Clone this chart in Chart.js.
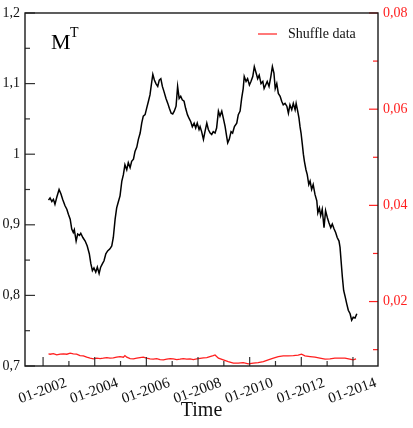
<!DOCTYPE html>
<html>
<head>
<meta charset="utf-8">
<script src="https://cdn.jsdelivr.net/npm/chart.js@4/dist/chart.umd.min.js"></script>
<style>
  html, body { margin: 0; padding: 0; background: #fff; }
  canvas { display: block; }
</style>
</head>
<body>
<canvas id="mtChart" width="413" height="428"></canvas>
<script>
// M^T series (decimal years)
const mDates = [
  2002.21, 2002.27, 2002.34, 2002.40, 2002.46, 2002.53, 2002.62, 2002.69, 2002.76, 2002.85,
  2002.92, 2002.98, 2003.05, 2003.11, 2003.17, 2003.21, 2003.28, 2003.34, 2003.41, 2003.46,
  2003.54, 2003.63, 2003.71, 2003.79, 2003.85, 2003.91, 2003.97, 2004.04, 2004.10, 2004.17,
  2004.23, 2004.30, 2004.36, 2004.43, 2004.50, 2004.59, 2004.66, 2004.72, 2004.79, 2004.85,
  2004.91, 2004.98, 2005.05, 2005.11, 2005.17, 2005.24, 2005.30, 2005.37, 2005.43, 2005.50,
  2005.56, 2005.63, 2005.69, 2005.76, 2005.82, 2005.88, 2005.95, 2006.01, 2006.08, 2006.14,
  2006.21, 2006.25, 2006.31, 2006.37, 2006.44, 2006.50, 2006.56, 2006.62, 2006.68, 2006.76,
  2006.83, 2006.89, 2006.96, 2007.02, 2007.08, 2007.15, 2007.21, 2007.27, 2007.33, 2007.39,
  2007.46, 2007.52, 2007.59, 2007.65, 2007.72, 2007.78, 2007.85, 2007.91, 2007.97, 2008.04,
  2008.08, 2008.14, 2008.21, 2008.27, 2008.34, 2008.40, 2008.47, 2008.53, 2008.59, 2008.66,
  2008.72, 2008.79, 2008.85, 2008.92, 2008.98, 2009.05, 2009.11, 2009.15, 2009.21, 2009.28,
  2009.34, 2009.41, 2009.50, 2009.56, 2009.63, 2009.69, 2009.75, 2009.79, 2009.86, 2009.92,
  2009.99, 2010.05, 2010.12, 2010.18, 2010.25, 2010.31, 2010.37, 2010.44, 2010.51, 2010.56,
  2010.62, 2010.68, 2010.75, 2010.82, 2010.88, 2010.94, 2010.99, 2011.05, 2011.11, 2011.18,
  2011.24, 2011.30, 2011.37, 2011.44, 2011.50, 2011.56, 2011.63, 2011.69, 2011.76, 2011.80,
  2011.86, 2011.91, 2011.95, 2011.99, 2012.04, 2012.08, 2012.12, 2012.18, 2012.23, 2012.29,
  2012.34, 2012.40, 2012.46, 2012.53, 2012.60, 2012.64, 2012.70, 2012.75, 2012.81, 2012.88,
  2012.94, 2013.01, 2013.07, 2013.14, 2013.20, 2013.27, 2013.33, 2013.39, 2013.46, 2013.50,
  2013.54, 2013.59, 2013.64, 2013.70, 2013.76, 2013.82, 2013.89, 2013.95, 2014.01, 2014.08,
  2014.15
];
const mValues = [
  0.935, 0.938, 0.933, 0.936, 0.929, 0.939, 0.950, 0.944, 0.936, 0.927,
  0.922, 0.915, 0.908, 0.894, 0.889, 0.893, 0.877, 0.887, 0.885, 0.888,
  0.882, 0.877, 0.870, 0.859, 0.845, 0.835, 0.839, 0.833, 0.840, 0.831,
  0.840, 0.845, 0.849, 0.859, 0.863, 0.866, 0.870, 0.882, 0.908, 0.924,
  0.932, 0.941, 0.962, 0.971, 0.985, 0.978, 0.988, 0.981, 0.990, 0.993,
  1.004, 1.010, 1.021, 1.030, 1.044, 1.054, 1.056, 1.065, 1.075, 1.084,
  1.103, 1.113, 1.105, 1.100, 1.096, 1.105, 1.107, 1.096, 1.089, 1.079,
  1.072, 1.065, 1.058, 1.057, 1.061, 1.068, 1.096, 1.079, 1.082, 1.077,
  1.075, 1.065, 1.056, 1.051, 1.046, 1.039, 1.044, 1.037, 1.044, 1.035,
  1.039, 1.032, 1.021, 1.032, 1.044, 1.035, 1.030, 1.028, 1.032, 1.030,
  1.037, 1.061, 1.054, 1.061, 1.051, 1.039, 1.025, 1.016, 1.021, 1.032,
  1.030, 1.039, 1.044, 1.056, 1.061, 1.079, 1.093, 1.110, 1.103, 1.107,
  1.098, 1.103, 1.110, 1.124, 1.115, 1.107, 1.112, 1.100, 1.103, 1.093,
  1.098, 1.103, 1.096, 1.110, 1.124, 1.115, 1.093, 1.100, 1.086, 1.082,
  1.075, 1.070, 1.072, 1.068, 1.058, 1.070, 1.063, 1.072, 1.063, 1.072,
  1.061, 1.051, 1.039, 1.030, 1.014, 1.000, 0.990, 0.978, 0.971, 0.957,
  0.962, 0.950, 0.957, 0.943, 0.934, 0.917, 0.924, 0.913, 0.922, 0.896,
  0.920, 0.910, 0.903, 0.896, 0.901, 0.894, 0.889, 0.882, 0.877, 0.868,
  0.849, 0.826, 0.807, 0.798, 0.788, 0.779, 0.774, 0.765, 0.769, 0.768,
  0.774
];

// Shuffle data series (right axis)
const shuffleDates = [
  2002.21, 2002.27, 2002.40, 2002.53, 2002.66, 2002.79, 2002.92, 2003.05, 2003.17, 2003.30,
  2003.43, 2003.56, 2003.69, 2003.82, 2003.95, 2004.08, 2004.21, 2004.33, 2004.47, 2004.59,
  2004.72, 2004.85, 2004.98, 2005.11, 2005.17, 2005.24, 2005.37, 2005.50, 2005.63, 2005.75,
  2005.88, 2006.01, 2006.14, 2006.27, 2006.40, 2006.53, 2006.66, 2006.79, 2006.92, 2007.04,
  2007.18, 2007.30, 2007.43, 2007.56, 2007.69, 2007.82, 2007.95, 2008.08, 2008.21, 2008.34,
  2008.46, 2008.59, 2008.66, 2008.79, 2008.98, 2009.17, 2009.37, 2009.56, 2009.75, 2009.95,
  2010.14, 2010.33, 2010.53, 2010.72, 2010.92, 2011.11, 2011.30, 2011.49, 2011.69, 2011.88,
  2012.01, 2012.14, 2012.34, 2012.53, 2012.72, 2012.92, 2013.11, 2013.30, 2013.50, 2013.69,
  2013.88, 2014.01, 2014.12
];
const shuffleValues = [
  0.00911, 0.00905, 0.00917, 0.00890, 0.00905, 0.00911, 0.00905, 0.00926, 0.00911, 0.00905,
  0.00876, 0.00870, 0.00843, 0.00822, 0.00807, 0.00822, 0.00814, 0.00822, 0.00834, 0.00822,
  0.00828, 0.00843, 0.00855, 0.00843, 0.00876, 0.00843, 0.00814, 0.00807, 0.00822, 0.00834,
  0.00843, 0.00822, 0.00807, 0.00801, 0.00814, 0.00793, 0.00787, 0.00801, 0.00814, 0.00807,
  0.00793, 0.00801, 0.00814, 0.00801, 0.00807, 0.00793, 0.00807, 0.00818, 0.00828, 0.00834,
  0.00855, 0.00876, 0.00890, 0.00822, 0.00787, 0.00751, 0.00718, 0.00718, 0.00730, 0.00704,
  0.00718, 0.00730, 0.00751, 0.00787, 0.00822, 0.00855, 0.00870, 0.00870, 0.00876, 0.00884,
  0.00905, 0.00870, 0.00855, 0.00843, 0.00822, 0.00801, 0.00807, 0.00822, 0.00822, 0.00822,
  0.00801, 0.00787, 0.00807
];

const xMajorYears = [2002, 2004, 2006, 2008, 2010, 2012, 2014];
const xMinorYears = [2003, 2005, 2007, 2009, 2011, 2013];
const leftTicks = [0.7, 0.8, 0.9, 1.0, 1.1, 1.2];
const leftMinorTicks = [0.75, 0.85, 0.95, 1.05, 1.15];
const rightTicks = [0.02, 0.04, 0.06, 0.08];
const rightMinorTicks = [0.01, 0.03, 0.05, 0.07];

const SERIF = "'Liberation Serif', 'Times New Roman', serif";
const RED = "#ff1f1f";

const frameAndTicks = {
    id: "frameAndTicks",
    afterDatasetsDraw(chart) {
        const { ctx, chartArea: a, scales } = chart;
        ctx.save();

        // inward tick marks
        ctx.lineWidth = 1.2;
        ctx.strokeStyle = "#333";
        const xTick = (v, len) => {
            const px = scales.x.getPixelForValue(v);
            ctx.beginPath();
            ctx.moveTo(px, a.bottom);
            ctx.lineTo(px, a.bottom - len);
            ctx.stroke();
        };
        xMajorYears.forEach((v) => xTick(v, 9));
        xMinorYears.forEach((v) => xTick(v, 5));

        const leftTick = (v, len) => {
            const py = scales.y.getPixelForValue(v);
            ctx.beginPath();
            ctx.moveTo(a.left, py);
            ctx.lineTo(a.left + len, py);
            ctx.stroke();
        };
        leftTicks.forEach((v) => leftTick(v, 10));
        leftMinorTicks.forEach((v) => leftTick(v, 5));

        ctx.strokeStyle = RED;
        const rightTick = (v, len) => {
            const py = scales.y1.getPixelForValue(v);
            ctx.beginPath();
            ctx.moveTo(a.right, py);
            ctx.lineTo(a.right - len, py);
            ctx.stroke();
        };
        rightTicks.forEach((v) => rightTick(v, 9));
        rightMinorTicks.forEach((v) => rightTick(v, 5));

        // frame
        ctx.strokeStyle = "#1a1a1a";
        ctx.lineWidth = 1.4;
        ctx.strokeRect(a.left, a.top, a.width, a.height);

        // M^T label
        ctx.fillStyle = "#000";
        ctx.textBaseline = "alphabetic";
        ctx.textAlign = "left";
        ctx.font = "22px " + SERIF;
        ctx.fillText("M", 51, 49);
        ctx.font = "14px " + SERIF;
        ctx.fillText("T", 70, 37);

        // legend
        const ds = chart.data.datasets[1];
        ctx.strokeStyle = ds.borderColor;
        ctx.lineWidth = 1.2;
        ctx.beginPath();
        ctx.moveTo(258, 34);
        ctx.lineTo(277, 34);
        ctx.stroke();
        ctx.fillStyle = "#111";
        ctx.font = "14px " + SERIF;
        ctx.textBaseline = "middle";
        ctx.fillText(ds.label, 288, 34);

        ctx.restore();
    },
};

const ctx = document.getElementById("mtChart");

new Chart(ctx, {
    type: "line",

    data: {
        datasets: [
            {
                label: "M^T",
                data: mDates.map((d, i) => ({ x: d, y: mValues[i] })),
                borderColor: "#000",
                borderWidth: 1.5,
                pointRadius: 0,
                tension: 0,
                yAxisID: "y",
            },
            {
                label: "Shuffle data",
                data: shuffleDates.map((d, i) => ({ x: d, y: shuffleValues[i] })),
                borderColor: RED,
                borderWidth: 1.3,
                pointRadius: 0,
                tension: 0,
                yAxisID: "y1",
            },
        ],
    },

    options: {
        responsive: false,
        animation: false,
        devicePixelRatio: 1,

        layout: {
            padding: { top: 13, left: 0, right: 0, bottom: 0 },
        },

        plugins: {
            legend: { display: false },
            tooltip: { enabled: false },
        },

        scales: {
            x: {
                type: "linear",
                min: 2001.3,
                max: 2014.97,
                grid: { display: false, drawTicks: false },
                border: { display: false },
                afterBuildTicks: (s) => {
                    s.ticks = xMajorYears.map((v) => ({ value: v }));
                },
                afterFit: (s) => {
                    s.height = 62;
                    s.paddingLeft = 0;
                    s.paddingRight = 0;
                },
                ticks: {
                    autoSkip: false,
                    minRotation: 20,
                    maxRotation: 20,
                    padding: 8,
                    labelOffset: 23,
                    color: "#111",
                    font: { family: SERIF, size: 15 },
                    callback: (v) => "01-" + v,
                },
                title: {
                    display: true,
                    text: "Time",
                    color: "#111",
                    font: { family: SERIF, size: 20 },
                    padding: { top: 0, bottom: 5 },
                },
            },

            y: {
                position: "left",
                min: 0.7,
                max: 1.2,
                grid: { display: false, drawTicks: false },
                border: { display: false },
                afterBuildTicks: (s) => {
                    s.ticks = leftTicks.map((v) => ({ value: v }));
                },
                afterFit: (s) => {
                    s.width = 25;
                    s.paddingTop = 0;
                    s.paddingBottom = 0;
                },
                ticks: {
                    padding: 5,
                    color: "#111",
                    font: { family: SERIF, size: 14 },
                    callback: (v) => String(v).replace(".", ","),
                },
            },

            y1: {
                position: "right",
                min: 0.0066,
                max: 0.08,
                grid: { display: false, drawTicks: false },
                border: { display: false },
                afterBuildTicks: (s) => {
                    s.ticks = rightTicks.map((v) => ({ value: v }));
                },
                afterFit: (s) => {
                    s.width = 35;
                    s.paddingTop = 0;
                    s.paddingBottom = 0;
                },
                ticks: {
                    padding: 5,
                    color: RED,
                    font: { family: SERIF, size: 14 },
                    callback: (v) => v.toFixed(2).replace(".", ","),
                },
            },
        },
    },

    plugins: [frameAndTicks],
});
</script>
</body>
</html>
